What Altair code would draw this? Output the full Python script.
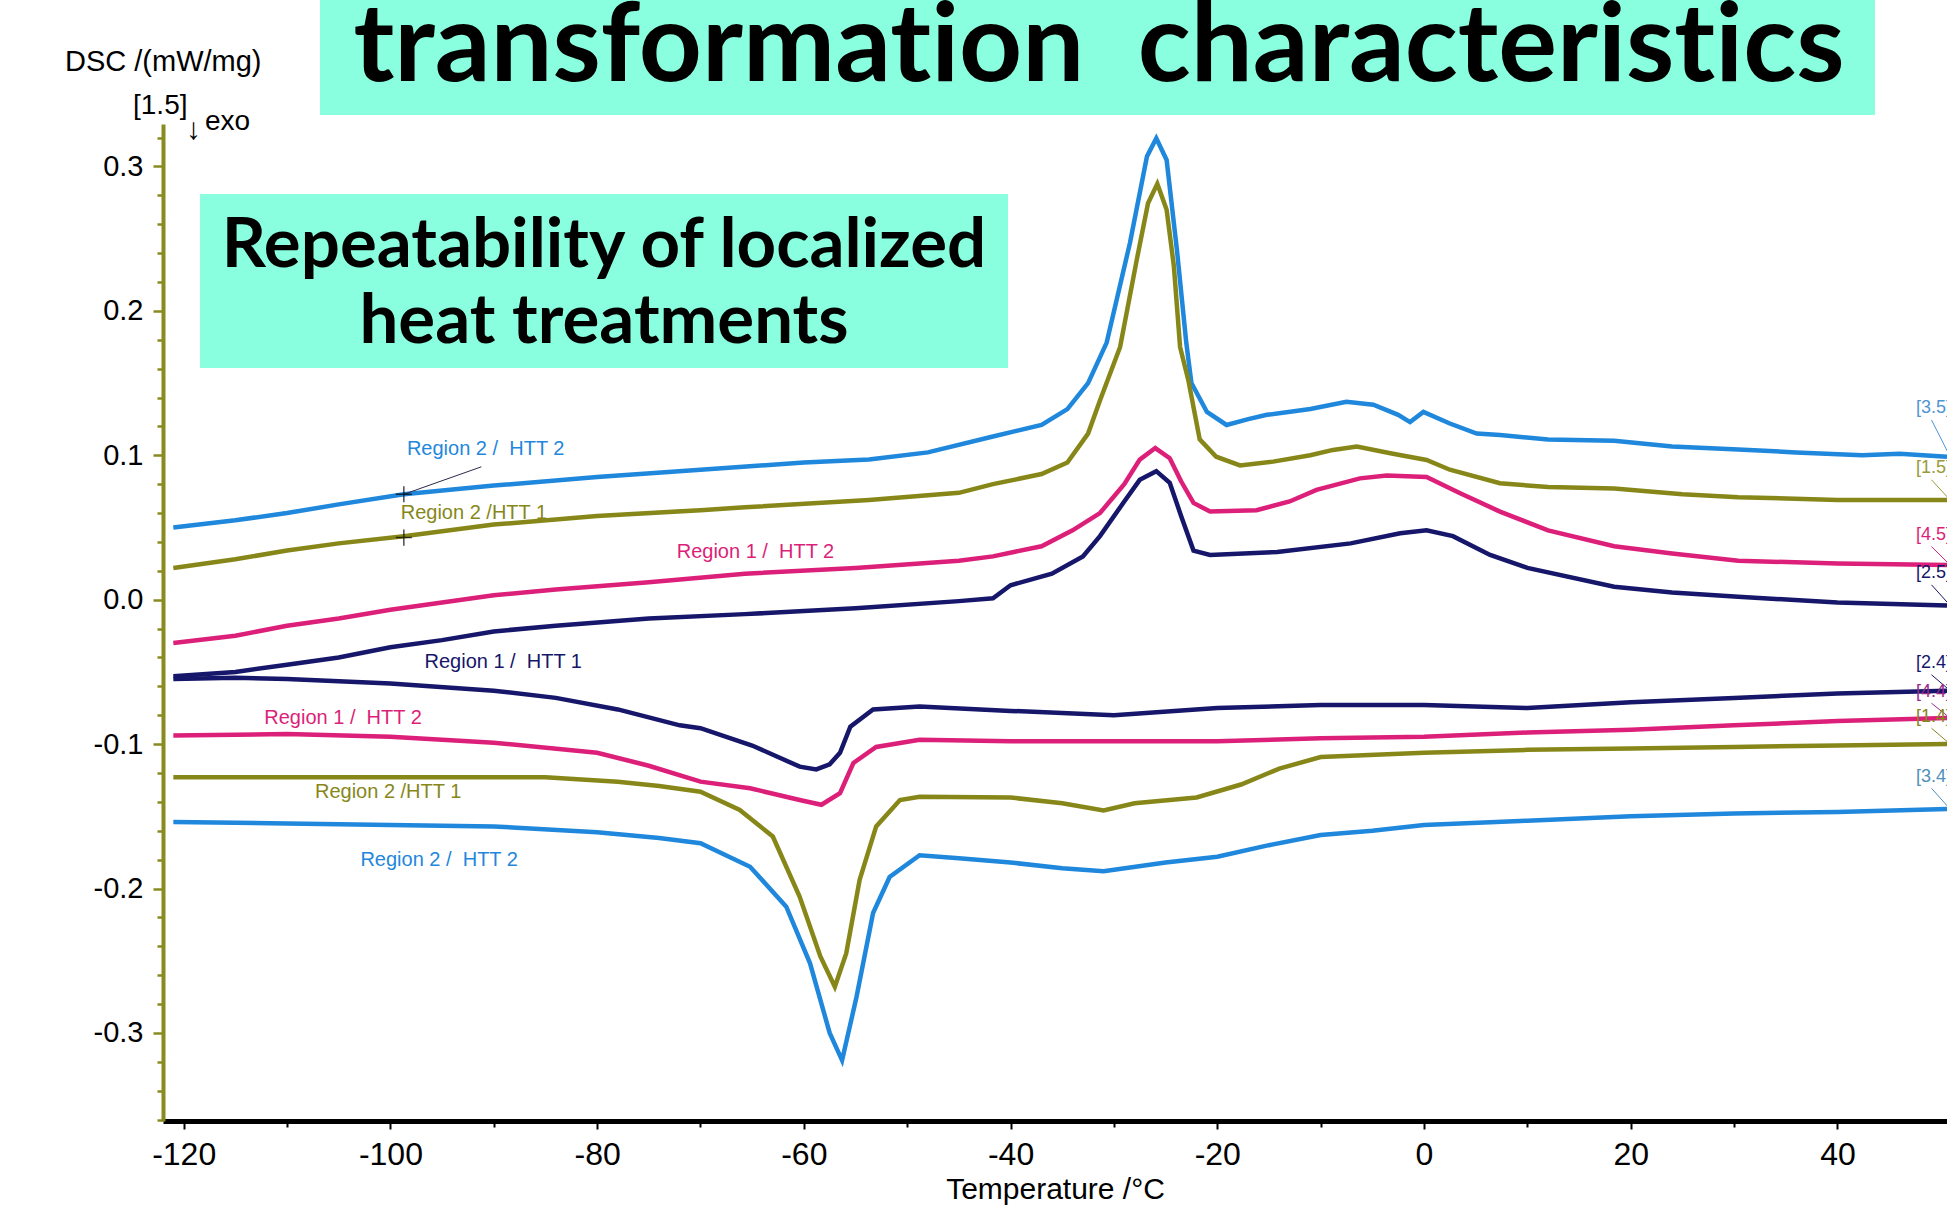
import altair as alt
import pandas as pd

# ---- colours -------------------------------------------------------------
BLUE = "#1f87dc"
OLIVE = "#878719"
PINK = "#dc1f78"
NAVY = "#16166a"
MINT = "#8affdf"
AXIS_OLIVE = "#8a8a20"

# ---- heating runs (upper group) ------------------------------------------
R2_HTT2_UP_T = [-121, -115, -110, -105, -98.7, -90, -80, -70, -60, -53.7, -48, -41.7, -37, -34.5,
                -32.5, -30.7, -28.45, -26.8, -25.9, -24.9, -23.9, -23.0, -22.5, -21, -19.1, -17,
                -15.2, -11, -7.5, -4.9, -2.5, -1.35, -0.06, 2.5, 5.1, 7.35, 12, 18.4, 24, 30.4,
                36, 42.4, 46, 50.6]
R2_HTT2_UP_DSC = [0.050, 0.055, 0.060, 0.066, 0.073, 0.079, 0.085, 0.090, 0.095, 0.097, 0.102,
                  0.113, 0.121, 0.132, 0.150, 0.178, 0.247, 0.307, 0.3195, 0.3045, 0.242, 0.178,
                  0.150, 0.130, 0.121, 0.125, 0.128, 0.132, 0.137, 0.135, 0.128, 0.123, 0.130,
                  0.122, 0.115, 0.114, 0.111, 0.110, 0.106, 0.104, 0.102, 0.100, 0.101, 0.099]

R2_HTT1_UP_T = [-121, -115, -110, -105, -98.7, -90, -80, -70, -65.7, -53.7, -45, -41.7, -37,
                -34.5, -32.5, -31.35, -29.4, -27.8, -26.7, -25.8, -24.9, -24.2, -23.6, -22.8,
                -21.7, -20.1, -17.8, -14.6, -11, -8.8, -6.5, -3, 0.25, 2.5, 7.35, 12, 18.4, 25,
                30.4, 40, 50.6]
R2_HTT1_UP_DSC = [0.022, 0.028, 0.034, 0.039, 0.044, 0.052, 0.058, 0.062, 0.064, 0.069, 0.074,
                  0.080, 0.087, 0.095, 0.115, 0.138, 0.175, 0.235, 0.2745, 0.288, 0.270, 0.231,
                  0.175, 0.152, 0.111, 0.099, 0.093, 0.0956, 0.100, 0.1037, 0.106, 0.101, 0.0967,
                  0.090, 0.0806, 0.078, 0.077, 0.073, 0.071, 0.069, 0.069]

R1_HTT2_UP_T = [-121, -115, -110, -105, -100, -95, -90, -84, -75, -65.7, -55, -45, -41.7, -37,
                -34, -31.35, -29, -27.5, -26.0, -24.6, -23.5, -22.3, -20.7, -16.2, -13, -10.4,
                -6.2, -3.6, 0.25, 3.5, 7.35, 12, 18.4, 24, 30.4, 40, 50.6]
R1_HTT2_UP_DSC = [-0.030, -0.025, -0.018, -0.013, -0.007, -0.002, 0.003, 0.007, 0.012, 0.018,
                  0.022, 0.027, 0.030, 0.037, 0.048, 0.060, 0.080, 0.097, 0.105, 0.098, 0.082,
                  0.067, 0.061, 0.062, 0.068, 0.076, 0.084, 0.086, 0.085, 0.0737, 0.061, 0.048,
                  0.037, 0.032, 0.027, 0.025, 0.024]

R1_HTT1_UP_T = [-121, -115, -110, -105, -100, -95, -90, -84, -75, -65.7, -55, -45, -41.7, -40,
                -36, -33, -31.35, -29, -27.5, -25.9, -24.6, -23.5, -22.3, -20.7, -14.2, -7.1,
                -2.3, 0.25, 2.8, 6.4, 10, 18.4, 24, 30.4, 40, 50.6]
R1_HTT1_UP_DSC = [-0.053, -0.050, -0.045, -0.040, -0.033, -0.028, -0.022, -0.018, -0.013, -0.010,
                  -0.006, -0.001, 0.001, 0.010, 0.018, 0.030, 0.044, 0.068, 0.083, 0.089, 0.081,
                  0.058, 0.034, 0.031, 0.033, 0.039, 0.046, 0.048, 0.044, 0.031, 0.022, 0.009,
                  0.005, 0.002, -0.002, -0.004]

# ---- cooling runs (lower group) ------------------------------------------
R1_HTT1_DN_T = [-121, -115, -110, -100, -90, -84, -78, -72, -70, -65, -60.4, -58.8, -57.5, -56.5,
                -55.5, -53.3, -48.8, -40, -30, -20, -10, 0, 10, 20, 30, 40, 50.6]
R1_HTT1_DN_DSC = [-0.055, -0.054, -0.055, -0.058, -0.063, -0.068, -0.076, -0.087, -0.089, -0.101,
                  -0.1156, -0.1175, -0.114, -0.106, -0.088, -0.076, -0.074, -0.077, -0.080,
                  -0.075, -0.073, -0.073, -0.075, -0.071, -0.068, -0.065, -0.063]

R1_HTT2_DN_T = [-121, -110, -100, -90, -80, -75, -70, -65.2, -60.4, -58.3, -56.5, -55.2, -53.0,
                -48.8, -40, -30, -20, -10, 0, 10, 20, 30, 40, 50.6]
R1_HTT2_DN_DSC = [-0.094, -0.093, -0.095, -0.099, -0.106, -0.115, -0.126, -0.1306, -0.1387,
                  -0.142, -0.134, -0.113, -0.102, -0.097, -0.098, -0.098, -0.098, -0.096, -0.095,
                  -0.092, -0.090, -0.087, -0.084, -0.082]

R2_HTT1_DN_T = [-121, -100, -85, -78, -74, -70, -66.2, -63.0, -60.4, -58.4, -57.0, -55.9, -54.6,
                -53.0, -50.7, -48.8, -40, -35, -31, -28, -22, -17.7, -14, -10, 0, 10, 20, 30, 40,
                50.6]
R2_HTT1_DN_DSC = [-0.123, -0.123, -0.123, -0.126, -0.129, -0.133, -0.1456, -0.164, -0.2057,
                  -0.247, -0.268, -0.245, -0.194, -0.157, -0.1387, -0.1364, -0.137, -0.141,
                  -0.146, -0.141, -0.137, -0.128, -0.117, -0.109, -0.106, -0.104, -0.103, -0.102,
                  -0.101, -0.100]

R2_HTT2_DN_T = [-121, -110, -100, -90, -80, -74, -70, -65.2, -61.7, -59.4, -57.5, -56.3, -54.9,
                -53.3, -51.7, -48.8, -45, -40, -35, -31, -25, -20, -15, -10, -5, 0, 10, 20, 30,
                40, 50.6]
R2_HTT2_DN_DSC = [-0.154, -0.155, -0.156, -0.157, -0.161, -0.165, -0.1687, -0.185, -0.2126,
                  -0.2518, -0.300, -0.319, -0.275, -0.217, -0.192, -0.177, -0.179, -0.182,
                  -0.186, -0.188, -0.182, -0.178, -0.170, -0.163, -0.160, -0.156, -0.153, -0.150,
                  -0.148, -0.147, -0.145]

CURVES = [
    ("R2 HTT2 heating", BLUE, R2_HTT2_UP_T, R2_HTT2_UP_DSC),
    ("R2 HTT1 heating", OLIVE, R2_HTT1_UP_T, R2_HTT1_UP_DSC),
    ("R1 HTT2 heating", PINK, R1_HTT2_UP_T, R1_HTT2_UP_DSC),
    ("R1 HTT1 heating", NAVY, R1_HTT1_UP_T, R1_HTT1_UP_DSC),
    ("R1 HTT1 cooling", NAVY, R1_HTT1_DN_T, R1_HTT1_DN_DSC),
    ("R1 HTT2 cooling", PINK, R1_HTT2_DN_T, R1_HTT2_DN_DSC),
    ("R2 HTT1 cooling", OLIVE, R2_HTT1_DN_T, R2_HTT1_DN_DSC),
    ("R2 HTT2 cooling", BLUE, R2_HTT2_DN_T, R2_HTT2_DN_DSC),
]

# ---- curve annotations ---------------------------------------------------
NB = "\u00a0"
ZWNJ = "\u200c"  # keeps "t" and "i" as separate glyphs
CURVE_LABELS = [f"Region 2 /{NB} HTT 2", "Region 2 /HTT 1", f"Region 1 /{NB} HTT 2",
                f"Region 1 /{NB} HTT 1", f"Region 1 /{NB} HTT 2", "Region 2 /HTT 1",
                f"Region 2 /{NB} HTT 2"]
CURVE_LABEL_T = [-98.4, -99.0, -72.3, -96.7, -112.2, -107.3, -102.9]
CURVE_LABEL_DSC = [0.104, 0.060, 0.0327, -0.043, -0.0817, -0.133, -0.1806]
CURVE_LABEL_COLORS = [BLUE, OLIVE, PINK, NAVY, PINK, OLIVE, BLUE]

END_TAGS = ["[3.5]", "[1.5]", "[4.5]", "[2.5]", "[2.4]", "[4.4]", "[1.4]", "[3.4]"]
END_TAG_T = [47.6] * 8
END_TAG_DSC = [0.1325, 0.091, 0.0448, 0.0183, -0.044, -0.0637, -0.081, -0.1226]
END_TAG_COLORS = ["#4f95d2", "#9a9a3a", PINK, NAVY, NAVY, "#9a2a8a", OLIVE, "#4f8fb8"]
END_CURVE_DSC = [0.099, 0.069, 0.024, -0.004, -0.063, -0.082, -0.100, -0.145]

CROSS_T = [-98.7, -98.7]
CROSS_DSC = [0.073, 0.043]

Y_TICKS = [v / 100 for v in range(-36, 33, 2)]
X_TICKS = list(range(-120, 50, 10))

# ---- tables --------------------------------------------------------------
rows = []
for name, col, ts, ds in CURVES:
    for t, d in zip(ts, ds):
        rows.append({"curve": name, "col": col, "T": t, "DSC": d})
curves_df = pd.DataFrame(rows)

labels_df = pd.DataFrame({"T": CURVE_LABEL_T, "DSC": CURVE_LABEL_DSC,
                          "txt": CURVE_LABELS, "col": CURVE_LABEL_COLORS})
tags_df = pd.DataFrame({"T": END_TAG_T, "DSC": END_TAG_DSC, "txt": END_TAGS,
                        "col": END_TAG_COLORS,
                        "T0": [49.1] * 8, "D0": [d - 0.008 for d in END_TAG_DSC],
                        "T1": [50.9] * 8, "D1": END_CURVE_DSC})
cross_df = pd.DataFrame({"T": CROSS_T, "DSC": CROSS_DSC})
leader_df = pd.DataFrame({"T": [-91.2], "DSC": [0.092], "T1": [-98.7], "D1": [0.073]})

x_scale = alt.Scale(domain=[-122, 50.6], nice=False, zero=False)
y_scale = alt.Scale(domain=[-0.361, 0.3294], nice=False, zero=False)

major_y = "abs(datum.value*10 - round(datum.value*10)) < 0.001"
x_axis = alt.Axis(
    values=X_TICKS,
    labelExpr="datum.value % 20 == 0 ? '' + datum.value : ''",
    title="Temperature /°C",
    titleFont="Liberation Sans Narrow, Liberation Sans",
    titleFontSize=30, titleFontWeight="normal", titleColor="black",
    titleY=68, titleBaseline="middle",
    labelFont="Liberation Sans Narrow, Liberation Sans",
    labelFontSize=32, labelColor="black", labelPadding=10,
    labelOverlap=False, labelFlush=False, labelBound=False,
    domainColor="black", domainWidth=5,
    tickColor="black", tickWidth=2,
    tickSize={"condition": {"test": "datum.value % 20 == 0", "value": 8}, "value": 6},
    grid=False,
)
y_axis = alt.Axis(
    values=Y_TICKS,
    labelExpr=f"{major_y} ? replace(format(datum.value, '.1f'), '−', '-') : ''",
    title=None,
    labelFont="Liberation Sans", labelFontSize=29, labelColor="black", labelPadding=10,
    labelOverlap=False, labelFlush=False, labelBound=False,
    domainColor=AXIS_OLIVE, domainWidth=4,
    tickColor=AXIS_OLIVE, tickWidth=2.5,
    tickSize={"condition": {"test": major_y, "value": 10}, "value": 6},
    grid=False,
)


def xq(field):
    return alt.X(field, type="quantitative", scale=x_scale, axis=x_axis)


def yq(field):
    return alt.Y(field, type="quantitative", scale=y_scale, axis=y_axis)


lines = alt.Chart(curves_df).mark_line(strokeWidth=4.5, clip=True).encode(
    x=xq("T"), y=yq("DSC"),
    color=alt.Color("col:N", scale=None),
    detail="curve:N",
)

curve_text = alt.Chart(labels_df).mark_text(
    font="Liberation Sans", fontSize=20, align="left", baseline="middle", clip=True
).encode(x=xq("T"), y=yq("DSC"), text="txt:N", color=alt.Color("col:N", scale=None))

tag_text = alt.Chart(tags_df).mark_text(
    font="Liberation Sans", fontSize=18, align="left", baseline="middle", clip=True
).encode(x=xq("T"), y=yq("DSC"), text="txt:N", color=alt.Color("col:N", scale=None))

tag_leaders = alt.Chart(tags_df).mark_rule(strokeWidth=1, clip=True).encode(
    x=xq("T0"), y=yq("D0"), x2="T1:Q", y2="D1:Q", color=alt.Color("col:N", scale=None),
)

label_leader = alt.Chart(leader_df).mark_rule(strokeWidth=1, color="#2a2a4a", clip=True).encode(
    x=xq("T"), y=yq("DSC"), x2="T1:Q", y2="D1:Q",
)

crosses = alt.Chart(cross_df).mark_point(
    shape="M-1,0L1,0M0,-1L0,1", filled=False, size=260, strokeWidth=1.5, color="black", clip=True
).encode(x=xq("T"), y=yq("DSC"))

one = pd.DataFrame({"k": [0]})


def box(x0, x1, y0, y1):
    return alt.Chart(one).mark_rect(color=MINT).encode(
        x=alt.value(x0), x2=alt.value(x1), y=alt.value(y0), y2=alt.value(y1))


def note(txt, x, y, size, font="Liberation Sans", weight="normal", align="left",
         baseline="middle", color="black"):
    return alt.Chart(one).mark_text(
        font=font, fontSize=size, fontWeight=weight, align=align, baseline=baseline, color=color
    ).encode(x=alt.value(x), y=alt.value(y), text=alt.value(txt))


title_box = box(157, 1712, -124, -9)
title_txt = note(f"transformat{ZWNJ}ion {NB}characterist{ZWNJ}ics", 936, -43, 110, font="Lato",
                 weight="bold", align="center", baseline="alphabetic")
sub_box = box(37, 845, 70, 244)
sub_l1 = note("Repeatability of localized", 441, 143, 69, font="Lato", weight="bold",
              align="center", baseline="alphabetic")
sub_l2 = note("heat treatments", 441, 219, 69, font="Lato", weight="bold",
              align="center", baseline="alphabetic")

unit_txt = note("DSC /(mW/mg)", -98, -62, 29)
scale_txt = note("[1.5]", -30, -18, 28)
arrow_txt = note("↓", 23, 6, 30)
exo_txt = note("exo", 42, -2, 28)

chart = alt.layer(
    lines, tag_leaders, label_leader, crosses, curve_text, tag_text,
    title_box, title_txt, sub_box, sub_l1, sub_l2,
    unit_txt, scale_txt, arrow_txt, exo_txt,
).properties(
    width=1784, height=997,
    padding={"left": 163, "top": 124, "right": 0, "bottom": 87},
    autosize=alt.AutoSizeParams(type="none"),
    background="white",
).configure_view(strokeWidth=0).configure_axis(labelOverlap=False)

chart.save("out.html", embed_options={"renderer": "svg", "actions": False})
